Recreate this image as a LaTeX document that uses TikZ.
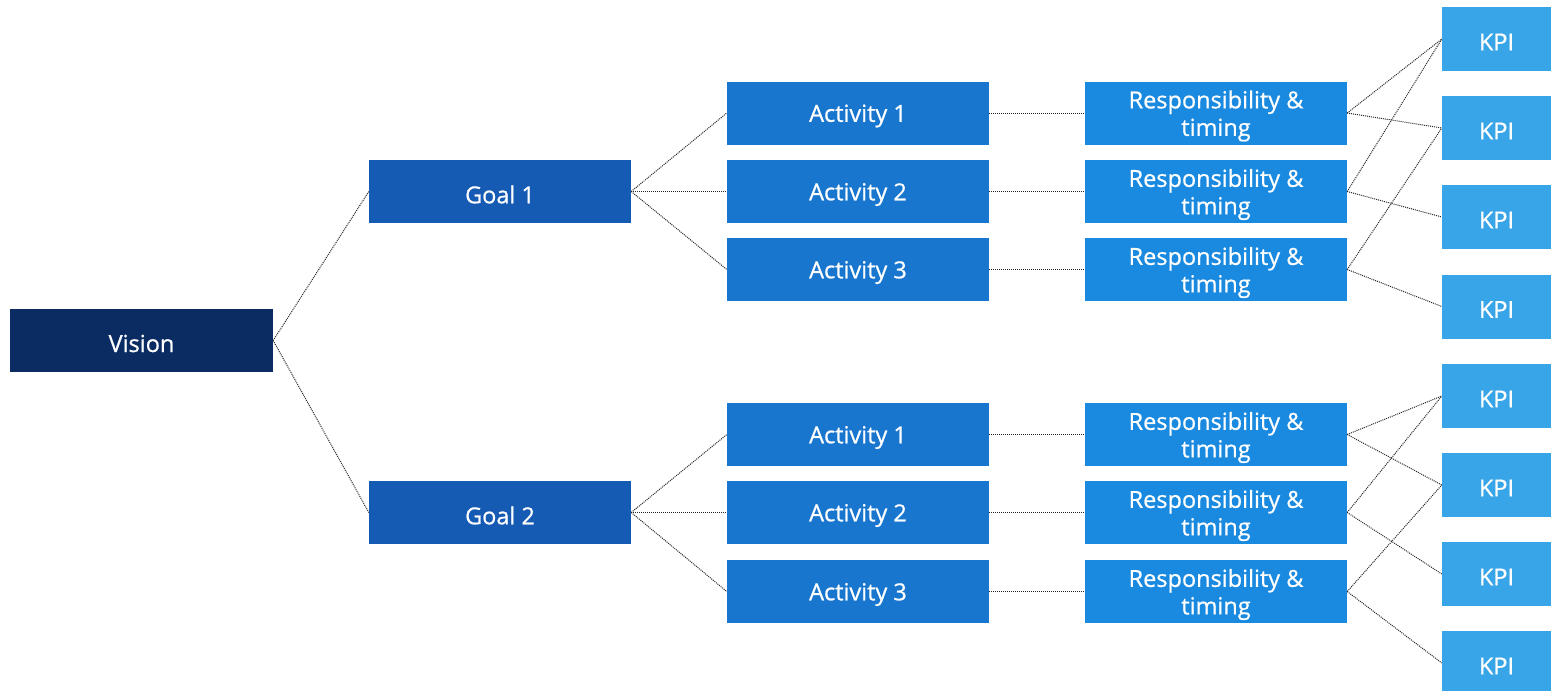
\documentclass[tikz,border=0pt]{standalone}
\usepackage{fontspec}
\setmainfont{Open Sans}
\newfontfamily\boxfont{Open Sans}[UprightFeatures={FakeBold=0.7}]
\begin{document}
\begin{tikzpicture}[x=1pt,y=-1pt,
  lbl/.style={text=white, align=center, inner sep=0pt, yshift=-3pt,
    font=\boxfont\fontsize{23.5}{27.5}\selectfont},
  box/.style={draw=none, minimum height=63pt, inner sep=0pt},
  visionbox/.style={box, fill=cVision, minimum width=263pt},
  goalbox/.style={box, fill=cGoal, minimum width=262pt},
  actbox/.style={box, fill=cAct, minimum width=262pt},
  respbox/.style={box, fill=cResp, minimum width=262pt},
  kpibox/.style={box, fill=cKPI, minimum width=109pt, minimum height=64pt},
  link/.style={draw=black!85, line width=1pt, dash pattern=on 1pt off 1pt}
]
\definecolor{cVision}{HTML}{0B2C63}
\definecolor{cGoal}{HTML}{155BB4}
\definecolor{cAct}{HTML}{1976CF}
\definecolor{cResp}{HTML}{1A8AE0}
\definecolor{cKPI}{HTML}{38A5E8}
\useasboundingbox (0,0) rectangle (1551,691);
\clip (0,0) rectangle (1551,691);

\node[visionbox, label={[lbl]center:Vision}] (vision) at (141.5,340.5) {};
\node[goalbox, label={[lbl]center:Goal 1}] (g1) at (500,191.5) {};
\node[goalbox, label={[lbl]center:Goal 2}] (g2) at (500,512.5) {};

\node[actbox, label={[lbl]center:Activity 1}] (a11) at (858,113) {};
\node[actbox, label={[lbl]center:Activity 2}] (a12) at (858,191.5) {};
\node[actbox, label={[lbl]center:Activity 3}] (a13) at (858,269.5) {};
\node[actbox, label={[lbl]center:Activity 1}] (a21) at (858,434.5) {};
\node[actbox, label={[lbl]center:Activity 2}] (a22) at (858,512.5) {};
\node[actbox, label={[lbl]center:Activity 3}] (a23) at (858,591.5) {};

\node[respbox, label={[lbl]center:Responsibility \&\\timing}] (r11) at (1216,113) {};
\node[respbox, label={[lbl]center:Responsibility \&\\timing}] (r12) at (1216,191.5) {};
\node[respbox, label={[lbl]center:Responsibility \&\\timing}] (r13) at (1216,269.5) {};
\node[respbox, label={[lbl]center:Responsibility \&\\timing}] (r21) at (1216,434.5) {};
\node[respbox, label={[lbl]center:Responsibility \&\\timing}] (r22) at (1216,512.5) {};
\node[respbox, label={[lbl]center:Responsibility \&\\timing}] (r23) at (1216,591.5) {};

\node[kpibox, label={[lbl]center:KPI}] (k1) at (1496.5,39) {};
\node[kpibox, label={[lbl]center:KPI}] (k2) at (1496.5,128) {};
\node[kpibox, label={[lbl]center:KPI}] (k3) at (1496.5,217) {};
\node[kpibox, label={[lbl]center:KPI}] (k4) at (1496.5,306.5) {};
\node[kpibox, label={[lbl]center:KPI}] (k5) at (1496.5,396) {};
\node[kpibox, label={[lbl]center:KPI}] (k6) at (1496.5,485) {};
\node[kpibox, label={[lbl]center:KPI}] (k7) at (1496.5,574) {};
\node[kpibox, label={[lbl]center:KPI}] (k8) at (1496.5,663) {};

\draw[link] (vision.east) -- (g1.west);
\draw[link] (vision.east) -- (g2.west);
\foreach \g in {1,2}{
  \foreach \a in {1,2,3}{
    \draw[link] (g\g.east) -- (a\g\a.west);
    \draw[link] (a\g\a.east) -- (r\g\a.west);
  }
}
\draw[link] (r11.east) -- (k1.west);
\draw[link] (r11.east) -- (k2.west);
\draw[link] (r12.east) -- (k1.west);
\draw[link] (r12.east) -- (k3.west);
\draw[link] (r13.east) -- (k2.west);
\draw[link] (r13.east) -- (k4.west);
\draw[link] (r21.east) -- (k5.west);
\draw[link] (r21.east) -- (k6.west);
\draw[link] (r22.east) -- (k5.west);
\draw[link] (r22.east) -- (k7.west);
\draw[link] (r23.east) -- (k6.west);
\draw[link] (r23.east) -- (k8.west);
\end{tikzpicture}
\end{document}
